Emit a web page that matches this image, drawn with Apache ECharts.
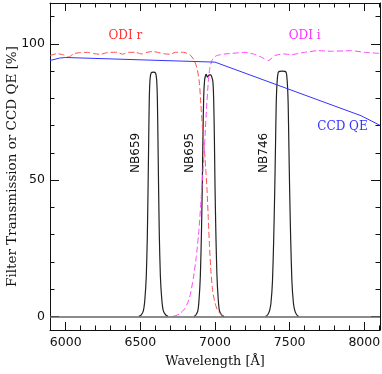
<!DOCTYPE html>
<html><head><meta charset="utf-8">
<script src="https://cdn.jsdelivr.net/npm/echarts@6/dist/echarts.min.js"></script>
<style>html,body{margin:0;padding:0;background:#fff}#c{width:382px;height:374px}</style>
</head><body><div id="c"></div>
<script>
const X_MIN = 5895, X_MAX = 8105, Y_MIN = -5, Y_MAX = 115;
const xMajorTicks = [6000, 6500, 7000, 7500, 8000];
const xMinorTicks = [5900, 6000, 6100, 6200, 6300, 6400, 6500, 6600, 6700, 6800, 6900, 7000, 7100, 7200, 7300, 7400, 7500, 7600, 7700, 7800, 7900, 8000, 8100];
const yMajorTicks = [0, 50, 100];
const yMinorTicks = [0, 10, 20, 30, 40, 50, 60, 70, 80, 90, 100, 110];

const ccdQE = [[5895, 93.9], [5960, 94.8], [6000, 95.0], [7000, 93.3], [7980, 73.6], [8105, 70.1]];

const odiR = [[5895, 95.7], [5940, 96.4], [5985, 96.0], [6020, 95.2], [6055, 96.4], [6100, 96.8], [6145, 96.9], [6190, 96.4], [6235, 96.2], [6270, 96.7], [6300, 96.9], [6345, 96.9], [6380, 96.2], [6420, 96.9], [6465, 96.9], [6510, 96.3], [6545, 96.9], [6580, 97.2], [6615, 96.9], [6655, 96.4], [6700, 96.2], [6735, 96.9], [6790, 96.9], [6836, 95.8], [6860, 94], [6880, 91], [6895, 86], [6905, 78], [6915, 70], [6928, 62], [6938, 54], [6947, 46], [6955, 36], [6963, 26], [6972, 17], [6985, 9], [7000, 5], [7015, 2.5], [7035, 1], [7060, 0]];

const odiI = [[6720, 0], [6760, 0.8], [6800, 3], [6830, 7], [6855, 14], [6875, 22], [6893, 32], [6908, 44], [6920, 54], [6932, 65], [6944, 77], [6955, 86], [6965, 91], [6980, 94], [7000, 95.3], [7011, 95.7], [7067, 96.3], [7134, 96.6], [7201, 96.9], [7257, 96.3], [7312, 95.1], [7357, 93.9], [7401, 95.7], [7457, 96.3], [7513, 96.1], [7600, 96.9], [7690, 97.5], [7779, 97.3], [7913, 97.5], [8002, 96.9], [8105, 96.5]];

const nb659 = [[6490, 0], [6505, 0.5], [6520, 2], [6530, 6], [6540, 15], [6547, 30], [6552, 48], [6556, 65], [6560, 80], [6565, 87], [6572, 89.3], [6587, 89.6], [6602, 89.3], [6609, 87], [6614, 80], [6618, 65], [6622, 48], [6627, 30], [6634, 15], [6644, 6], [6654, 2], [6670, 0.5], [6685, 0]];

const nb695 = [[6860, 0], [6872, 0.5], [6885, 2], [6893, 6], [6902, 15], [6909, 30], [6915, 48], [6919, 65], [6924, 80], [6930, 86.5], [6937, 88.5], [6942, 88.8], [6948, 87.8], [6955, 88.2], [6963, 88.6], [6972, 88.6], [6985, 86.5], [6991, 80], [6996, 65], [7000, 48], [7006, 30], [7013, 15], [7022, 6], [7030, 2], [7045, 0.5], [7060, 0]];

const nb746 = [[7340, 0], [7352, 0.5], [7365, 2], [7375, 5], [7385, 13], [7393, 28], [7400, 46], [7405, 62], [7410, 78], [7416, 86], [7424, 89.6], [7450, 90], [7476, 89.6], [7484, 86], [7490, 78], [7495, 62], [7500, 46], [7507, 28], [7515, 13], [7525, 5], [7535, 2], [7548, 0.5], [7560, 0]];

const annotations = [
  {text: 'ODI r', at: [6400, 103], color: '#ff3333', font: 'DejaVu Serif', size: 12, rot: 0},
  {text: 'ODI i', at: [7600, 103], color: '#ff33ff', font: 'DejaVu Serif', size: 12, rot: 0},
  {text: 'CCD QE', at: [7854, 69.4], color: '#3333ff', font: 'DejaVu Serif', size: 12, rot: 0},
  {text: 'NB659', at: [6467, 60], color: '#111', font: 'DejaVu Sans', size: 12, rot: Math.PI / 2},
  {text: 'NB695', at: [6831, 60], color: '#111', font: 'DejaVu Sans', size: 12, rot: Math.PI / 2},
  {text: 'NB746', at: [7326, 60], color: '#111', font: 'DejaVu Sans', size: 12, rot: Math.PI / 2}
];
const yTitle = 'Filter Transmission or CCD QE [%]';
const xTitle = 'Wavelength [Å]';

const chart = echarts.init(document.getElementById('c'), null, {renderer: 'canvas'});
const gridRect = {left: 50, right: 2, top: 3, bottom: 44, containLabel: false, outerBoundsMode: 'none'};
const axisCol = '#111';

function xAx(gi, pos, ticks, len, showLine, showLabel, extra) {
  return Object.assign({
    type: 'value', gridIndex: gi, position: pos, min: X_MIN, max: X_MAX,
    axisLine: {show: showLine, onZero: false, lineStyle: {color: axisCol, width: 1}},
    axisTick: {show: true, inside: true, length: len, customValues: ticks, lineStyle: {color: axisCol, width: 1}},
    axisLabel: {show: showLabel, customValues: ticks, formatter: v => String(v), color: '#111', fontFamily: 'DejaVu Sans', fontSize: 12.5, margin: 6},
    splitLine: {show: false}
  }, extra || {});
}
function yAx(gi, pos, ticks, len, showLine, showLabel, extra) {
  return Object.assign({
    type: 'value', gridIndex: gi, position: pos, min: Y_MIN, max: Y_MAX,
    axisLine: {show: showLine, onZero: false, lineStyle: {color: axisCol, width: 1}},
    axisTick: {show: true, inside: true, length: len, customValues: ticks, lineStyle: {color: axisCol, width: 1}},
    axisLabel: {show: showLabel, customValues: ticks, formatter: v => String(v), color: '#111', fontFamily: 'DejaVu Sans', fontSize: 12.5, margin: 5},
    splitLine: {show: false}
  }, extra || {});
}

const filterStyle = {color: '#222', width: 1.2};
function filterSeries(name, data) {
  return {name, type: 'line', xAxisIndex: 0, yAxisIndex: 0, data, showSymbol: false, smooth: 0.2,
    lineStyle: filterStyle, itemStyle: {color: '#222'}, z: 3};
}

chart.setOption({
  animation: false,
  backgroundColor: '#fff',
  grid: [Object.assign({}, gridRect), Object.assign({}, gridRect)],
  xAxis: [
    xAx(0, 'bottom', xMajorTicks, 8, true, true, {
      name: xTitle, nameLocation: 'middle', nameGap: 25,
      nameTextStyle: {fontFamily: 'DejaVu Serif', fontSize: 12.8, color: '#111'}
    }),
    xAx(0, 'top', xMajorTicks, 8, true, false),
    xAx(1, 'bottom', xMinorTicks, 4.5, false, false),
    xAx(1, 'top', xMinorTicks, 4.5, false, false)
  ],
  yAxis: [
    yAx(0, 'left', yMajorTicks, 9, true, true),
    yAx(0, 'right', yMajorTicks, 9, true, false),
    yAx(1, 'left', yMinorTicks, 4.5, false, false),
    yAx(1, 'right', yMinorTicks, 4.5, false, false)
  ],
  series: [
    Object.assign(filterSeries('NB659', nb659), {
      markLine: {silent: true, symbol: 'none', label: {show: false},
        lineStyle: {color: '#666', width: 1.6, type: 'solid'}, data: [{yAxis: 0}]}
    }),
    filterSeries('NB695', nb695),
    filterSeries('NB746', nb746),
    {name: 'ODI r', type: 'line', data: odiR, showSymbol: false, smooth: 0.2,
      lineStyle: {color: '#ff4d4d', width: 1, type: [6, 3]}, z: 4},
    {name: 'ODI i', type: 'line', data: odiI, showSymbol: false, smooth: 0.2,
      lineStyle: {color: '#ff44ff', width: 1, type: [6, 3]}, z: 4},
    {name: 'CCD QE', type: 'line', data: ccdQE, showSymbol: false,
      lineStyle: {color: '#3333ff', width: 1}, z: 5}
  ]
});

const graphics = annotations.map(a => {
  const p = chart.convertToPixel({gridIndex: 0}, a.at);
  return {type: 'text', x: p[0], y: p[1], rotation: a.rot,
    style: {text: a.text, fill: a.color, font: a.size + 'px "' + a.font + '"', align: 'center', verticalAlign: 'middle'}, z: 10};
});
const yMid = chart.convertToPixel({gridIndex: 0}, [X_MIN, 55])[1];
graphics.push({type: 'text', x: 12, y: yMid, rotation: Math.PI / 2,
  style: {text: yTitle, fill: '#111', font: '13.5px "DejaVu Serif"', align: 'center', verticalAlign: 'middle'}, z: 10});
chart.setOption({graphic: graphics});
</script></body></html>
